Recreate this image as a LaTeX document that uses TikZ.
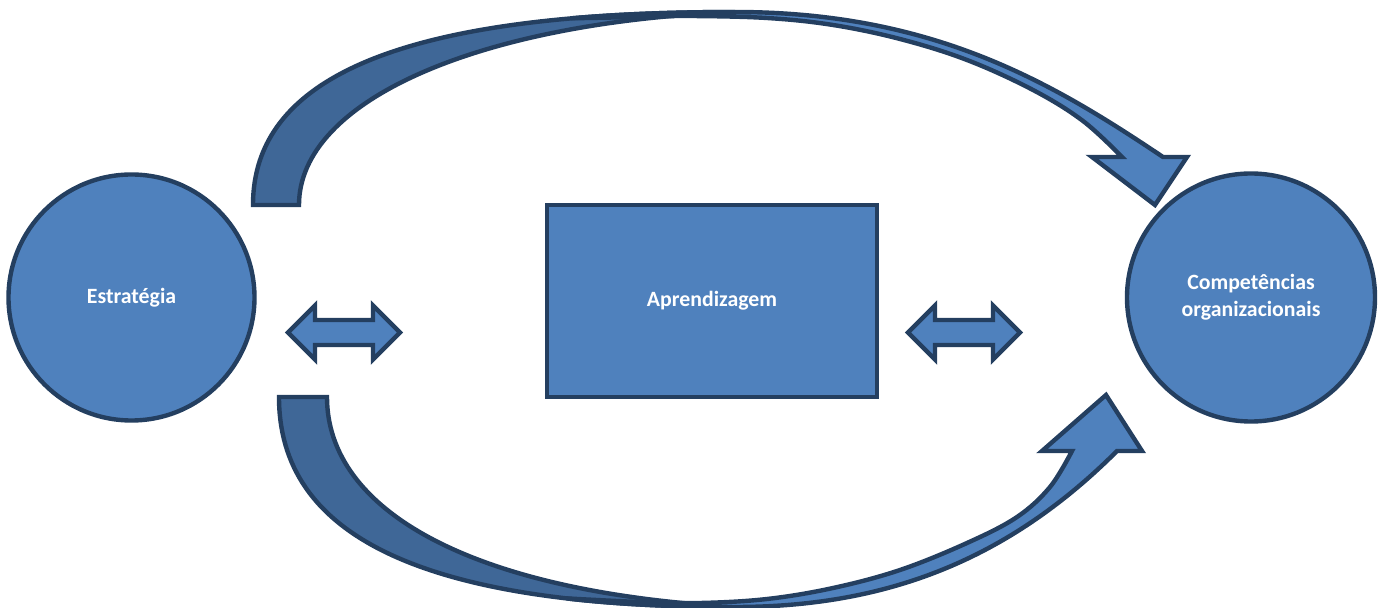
\documentclass[tikz,border=0pt]{standalone}
\usepackage{fontspec}
\setmainfont{Carlito}
\definecolor{fillblue}{HTML}{4F81BD}
\definecolor{darkblue}{HTML}{3F6797}
\definecolor{edgeblue}{HTML}{243F60}
\begin{document}
\begin{tikzpicture}[x=0.5pt,y=-0.5pt,line join=miter]
\tikzset{
  shapeline/.style={draw=edgeblue, line width=2.2pt},
  frontfill/.style={shapeline, fill=fillblue},
  backfill/.style={shapeline, fill=darkblue},
  lbl/.style={text=white, font=\bfseries\fontsize{10.9}{13.5}\selectfont, align=center},
  circnode/.style={circle, frontfill, lbl, inner sep=0pt},
  boxnode/.style={rectangle, frontfill, lbl, inner sep=0pt},
  dblarrow/.style={frontfill}
}
\useasboundingbox (0,0) rectangle (1382,608);

% top curved arrow: back (dark) part
\filldraw[backfill] (253,205) .. controls (253,62) and (440,12) .. (735,12)
  .. controls (480,22) and (299,100) .. (299,205) -- cycle;
% top curved arrow: front part with head
\filldraw[frontfill] (571.6,18.3) .. controls (621.3,14) and (676,12) .. (735,12)
  .. controls (935,12) and (1054,84) .. (1163,157)
  -- (1187,157) -- (1155,205) -- (1092,157) -- (1122,157)
  -- plot[smooth,tension=0.6] coordinates {(1122,157)(1083,121)(1033,90)(967,60)(900,39)(833,25)(767,18)(690,16)(640,17)(571.6,18.3)} -- cycle;

% bottom curved arrow: back (dark) part
\filldraw[backfill] (279,397) .. controls (279,535) and (420,607) .. (735,607)
  .. controls (470,592) and (327,510) .. (327,397) -- cycle;
% bottom curved arrow: front part with head
\filldraw[frontfill] (566.6,598.4) .. controls (616,604.1) and (672,607) .. (735,607)
  .. controls (885,607) and (1007,561) .. (1117,451)
  -- (1142,451) -- (1106,395) -- (1042,451) -- (1072,451)
  -- plot[smooth,tension=0.6] coordinates {(1072,451)(1050,487)(1017,517)(967,543)(900,570)(833,588)(767,599)(700,603)(640,602)(566.6,598.4)} -- cycle;

% nodes
\node[circnode, minimum size=123pt] (estr) at (131.5,297.5) {Estrat\'egia};
\node[boxnode, minimum width=165pt, minimum height=96pt] (apr) at (712,301) {Aprendizagem};
\node[circnode, minimum size=124pt] (comp) at (1251,297.5) {Compet\^encias\\organizacionais};

% double arrows between the nodes
\coordinate (da1) at (344,332.5);
\coordinate (da2) at (964,332.5);
\foreach \c in {da1,da2}{
  \filldraw[dblarrow] ([shift={(-56,0)}]\c) -- ([shift={(-29,-27)}]\c) -- ([shift={(-29,-12.5)}]\c)
    -- ([shift={(29,-12.5)}]\c) -- ([shift={(29,-27)}]\c) -- ([shift={(56,0)}]\c)
    -- ([shift={(29,27)}]\c) -- ([shift={(29,12.5)}]\c) -- ([shift={(-29,12.5)}]\c)
    -- ([shift={(-29,27)}]\c) -- cycle;
}
\end{tikzpicture}
\end{document}
